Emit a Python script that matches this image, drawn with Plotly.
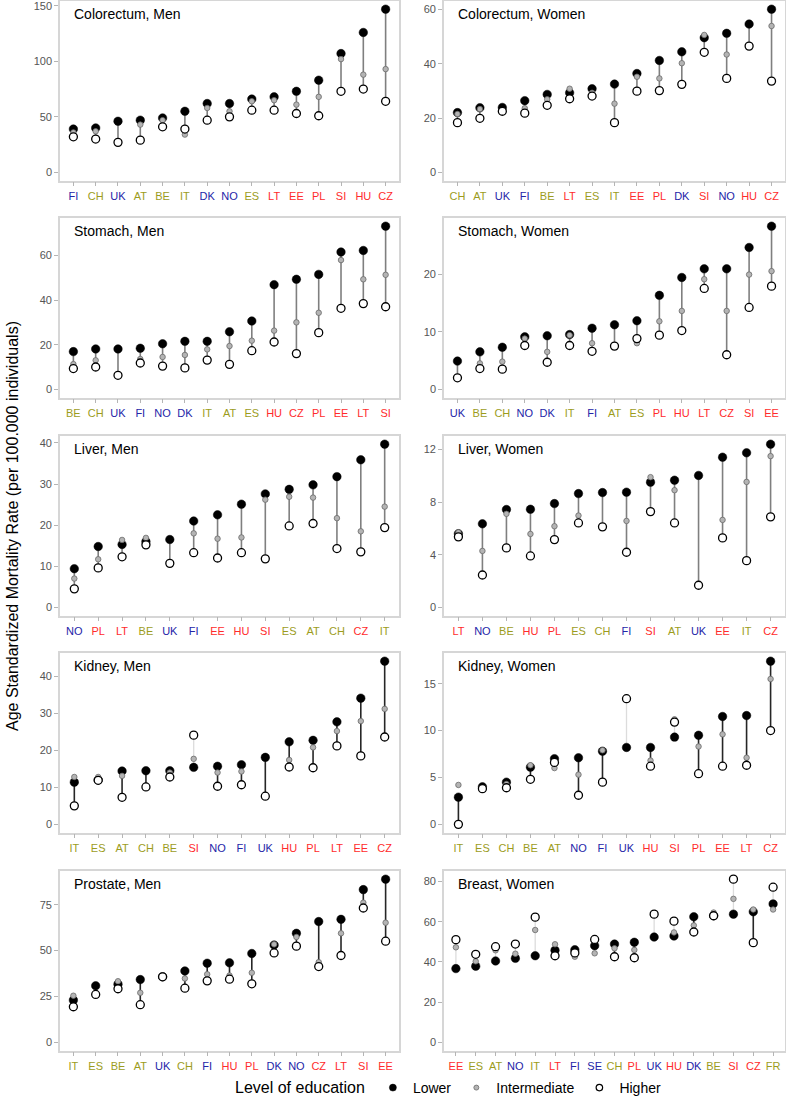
import plotly.graph_objects as go

# ---------------- region groups (tick label colours) ----------------
WEST = ["CH", "AT", "BE", "IT", "ES", "FR"]
NORTH = ["FI", "UK", "DK", "NO", "SE"]
EAST = ["LT", "EE", "PL", "SI", "HU", "CZ"]

# ---------------- data ----------------
colorectum_men_countries = ["FI", "CH", "UK", "AT", "BE", "IT", "DK", "NO", "ES", "LT", "EE", "PL", "SI", "HU", "CZ"]
colorectum_men_lower = [39, 40, 46, 47, 49, 55, 62, 62, 66, 68, 73, 83, 107, 126, 147]
colorectum_men_intermediate = [36, 37, None, 43, 47, 34, 58, 55, 64, 65, 61, 68, 102, 88, 93]
colorectum_men_higher = [32, 30, 27, 29, 41, 39, 47, 50, 56, 56, 53, 51, 73, 75, 64]

colorectum_women_countries = ["CH", "AT", "UK", "FI", "BE", "LT", "ES", "IT", "EE", "PL", "DK", "SI", "NO", "HU", "CZ"]
colorectum_women_lower = [22.0, 23.8, 23.9, 26.4, 28.7, 29.3, 30.8, 32.5, 36.4, 41.2, 44.4, 49.6, 51.2, 54.6, 60.1]
colorectum_women_intermediate = [21.5, 23.3, None, 23.6, 26.9, 30.8, 29.3, 25.3, 35.2, 34.6, 40.2, 50.6, 43.4, None, 53.9]
colorectum_women_higher = [18.3, 19.9, 22.5, 21.8, 24.7, 27.1, 28.1, 18.3, 29.9, 30.1, 32.4, 44.2, 34.6, 46.5, 33.6]

stomach_men_countries = ["BE", "CH", "UK", "FI", "NO", "DK", "IT", "AT", "ES", "HU", "CZ", "PL", "EE", "LT", "SI"]
stomach_men_lower = [16.9, 18.1, 18.1, 18.4, 20.4, 21.5, 21.5, 25.8, 30.6, 46.9, 49.3, 51.5, 61.5, 62.2, 73.1]
stomach_men_intermediate = [11.3, 13.0, None, 13.6, 14.5, 15.4, 17.9, 19.4, 21.8, 26.3, 30.0, 34.3, 57.9, 49.3, 51.3]
stomach_men_higher = [9.3, 10.0, 6.3, 11.8, 10.4, 9.6, 13.1, 11.2, 17.3, 21.2, 16.0, 25.4, 36.3, 38.4, 37.0]

stomach_women_countries = ["UK", "BE", "CH", "NO", "DK", "IT", "FI", "AT", "ES", "PL", "HU", "LT", "CZ", "SI", "EE"]
stomach_women_lower = [4.9, 6.5, 7.3, 9.1, 9.3, 9.5, 10.6, 11.2, 11.9, 16.3, 19.4, 20.9, 20.9, 24.6, 28.3]
stomach_women_intermediate = [None, 4.5, 4.8, 8.8, 6.5, 9.4, 8.0, None, 8.0, 11.8, 13.6, 19.1, 13.6, 19.9, 20.5]
stomach_women_higher = [2.0, 3.6, 3.5, 7.6, 4.7, 7.6, 6.6, 7.5, 8.8, 9.4, 10.2, 17.5, 6.0, 14.2, 17.9]

liver_men_countries = ["NO", "PL", "LT", "BE", "UK", "FI", "EE", "HU", "SI", "ES", "AT", "CH", "CZ", "IT"]
liver_men_lower = [9.4, 14.8, 15.3, 16.0, 16.5, 21.0, 22.5, 25.1, 27.6, 28.7, 29.8, 31.8, 35.9, 39.7]
liver_men_intermediate = [7.0, 11.7, 16.4, 16.9, None, 18.0, 16.7, 17.0, 26.2, 26.9, 26.7, 21.7, 18.5, 24.5]
liver_men_higher = [4.5, 9.6, 12.3, 15.2, 10.7, 13.3, 12.0, 13.3, 11.8, 19.8, 20.4, 14.3, 13.5, 19.4]

liver_women_countries = ["LT", "NO", "BE", "HU", "PL", "ES", "CH", "FI", "SI", "AT", "UK", "EE", "IT", "CZ"]
liver_women_lower = [5.6, 6.35, 7.44, 7.46, 7.89, 8.65, 8.73, 8.76, 9.52, 9.67, 10.03, 11.42, 11.75, 12.41]
liver_women_intermediate = [5.7, 4.29, 7.11, 5.58, 6.17, 6.98, None, 6.57, 9.90, 8.91, None, 6.65, 9.54, 11.50]
liver_women_higher = [5.36, 2.46, 4.52, 3.91, 5.15, 6.42, 6.12, 4.19, 7.28, 6.42, 1.68, 5.28, 3.55, 6.88]

kidney_men_countries = ["IT", "ES", "AT", "CH", "BE", "SI", "NO", "FI", "UK", "HU", "PL", "LT", "EE", "CZ"]
kidney_men_lower = [11.4, 12.0, 14.4, 14.5, 14.5, 15.4, 15.7, 16.1, 18.1, 22.3, 22.7, 27.7, 34.1, 44.1]
kidney_men_intermediate = [12.8, 12.8, 13.1, None, 14.0, 17.7, 14.0, 14.3, None, 17.4, 20.8, 25.2, 27.9, 31.2]
kidney_men_higher = [5.0, 11.9, 7.3, 10.1, 12.8, 24.1, 10.3, 10.7, 7.6, 15.5, 15.3, 21.2, 18.5, 23.6]

kidney_women_countries = ["IT", "ES", "CH", "BE", "AT", "NO", "FI", "UK", "HU", "SI", "PL", "EE", "LT", "CZ"]
kidney_women_lower = [2.9, 4.0, 4.5, 6.1, 7.0, 7.1, 7.8, 8.2, 8.2, 9.3, 9.5, 11.5, 11.6, 17.4]
kidney_women_intermediate = [4.2, None, 4.3, 6.3, 6.0, 5.3, 7.9, None, 6.8, 11.2, 8.3, 9.6, 7.1, 15.5]
kidney_women_higher = [0.0, 3.8, 3.9, 4.8, 6.6, 3.1, 4.5, 13.4, 6.2, 10.9, 5.4, 6.2, 6.3, 10.0]

prostate_men_countries = ["IT", "ES", "BE", "AT", "UK", "CH", "FI", "HU", "PL", "DK", "NO", "CZ", "LT", "SI", "EE"]
prostate_men_lower = [23.0, 30.8, 31.7, 34.2, 35.7, 38.9, 43.1, 43.3, 48.4, 53.0, 59.4, 65.8, 67.0, 83.2, 88.9]
prostate_men_intermediate = [25.4, None, 33.3, 27.0, None, 34.8, 37.1, 36.4, 37.9, 53.4, 57.4, 43.7, 59.4, 76.1, 65.2]
prostate_men_higher = [19.4, 26.1, 29.2, 20.5, 35.7, 29.5, 33.5, 34.4, 31.9, 48.7, 52.4, 41.3, 47.3, 73.2, 55.1]

breast_women_countries = ["EE", "ES", "AT", "NO", "IT", "LT", "FI", "SE", "CH", "PL", "UK", "HU", "DK", "BE", "SI", "CZ", "FR"]
breast_women_lower = [36.7, 37.9, 40.5, 41.8, 43.1, 45.8, 46.1, 48.1, 48.9, 49.8, 52.4, 52.9, 62.5, 63.0, 63.8, 65.0, 68.9]
breast_women_intermediate = [47.3, 40.3, 45.8, 44.1, 55.9, 48.8, 42.6, 44.3, 46.8, 46.0, None, 54.7, 58.2, 64.6, 71.4, 66.1, 66.1]
breast_women_higher = [51.1, 43.8, 47.6, 48.9, 62.3, 43.1, 44.5, 51.2, 42.6, 42.1, 63.8, 60.3, 54.9, 63.0, 81.2, 49.6, 77.2]

panel_titles = ["Colorectum, Men", "Colorectum, Women", "Stomach, Men", "Stomach, Women",
                "Liver, Men", "Liver, Women", "Kidney, Men", "Kidney, Women",
                "Prostate, Men", "Breast, Women"]
panel_yticks = [[0, 50, 100, 150], [0, 20, 40, 60], [0, 20, 40, 60], [0, 10, 20],
                [0, 10, 20, 30, 40], [0, 4, 8, 12], [0, 10, 20, 30, 40], [0, 5, 10, 15],
                [0, 25, 50, 75], [0, 20, 40, 60, 80]]

panels = [
    (colorectum_men_countries, colorectum_men_lower, colorectum_men_intermediate, colorectum_men_higher),
    (colorectum_women_countries, colorectum_women_lower, colorectum_women_intermediate, colorectum_women_higher),
    (stomach_men_countries, stomach_men_lower, stomach_men_intermediate, stomach_men_higher),
    (stomach_women_countries, stomach_women_lower, stomach_women_intermediate, stomach_women_higher),
    (liver_men_countries, liver_men_lower, liver_men_intermediate, liver_men_higher),
    (liver_women_countries, liver_women_lower, liver_women_intermediate, liver_women_higher),
    (kidney_men_countries, kidney_men_lower, kidney_men_intermediate, kidney_men_higher),
    (kidney_women_countries, kidney_women_lower, kidney_women_intermediate, kidney_women_higher),
    (prostate_men_countries, prostate_men_lower, prostate_men_intermediate, prostate_men_higher),
    (breast_women_countries, breast_women_lower, breast_women_intermediate, breast_women_higher),
]

# ---------------- styling ----------------
W, H = 786, 1108
FONT = "Liberation Sans, Arial, Helvetica, sans-serif"
COL_WEST = "#9c9c1c"
COL_NORTH = "#2424a8"
COL_EAST = "#ff2b2b"
BORDER = "#d6d6d6"

col_x = [(60, 399), (444, 785)]
row_top = [1, 218, 436, 653, 871]
PANEL_H = 179.5


def country_color(c):
    if c in WEST:
        return COL_WEST
    if c in NORTH:
        return COL_NORTH
    return COL_EAST


fig = go.Figure()
layout = {}

for k, (countries, lower, inter, higher) in enumerate(panels):
    r, c = divmod(k, 2)
    sfx = "" if k == 0 else str(k + 1)
    xname, yname = "x" + sfx, "y" + sfx
    n = len(countries)

    seg_color = "#7f7f7f" if r < 3 else "#262626"
    rev_color = "#dcdcdc"

    # segments from lower to higher
    sx, sy, rx, ry = [], [], [], []
    for cc, lo, hi in zip(countries, lower, higher):
        if hi > lo:
            rx += [cc, cc, None]
            ry += [lo, hi, None]
        else:
            sx += [cc, cc, None]
            sy += [lo, hi, None]
    fig.add_trace(go.Scatter(x=rx, y=ry, mode="lines", line=dict(color=rev_color, width=1.3),
                             xaxis=xname, yaxis=yname, showlegend=False, hoverinfo="skip"))
    fig.add_trace(go.Scatter(x=sx, y=sy, mode="lines", line=dict(color=seg_color, width=1.6),
                             xaxis=xname, yaxis=yname, showlegend=False, hoverinfo="skip"))
    fig.add_trace(go.Scatter(x=countries, y=lower, mode="markers",
                             marker=dict(color="black", size=8.5, line=dict(color="black", width=0.5)),
                             xaxis=xname, yaxis=yname, showlegend=False, name="Lower"))
    fig.add_trace(go.Scatter(x=countries, y=inter, mode="markers",
                             marker=dict(color="#b4b4b4", size=5.5, line=dict(color="#6a6a6a", width=0.8)),
                             xaxis=xname, yaxis=yname, showlegend=False, name="Intermediate"))
    fig.add_trace(go.Scatter(x=countries, y=higher, mode="markers",
                             marker=dict(color="white", size=8, line=dict(color="black", width=1.3)),
                             xaxis=xname, yaxis=yname, showlegend=False, name="Higher"))

    vals = [v for v in lower + inter + higher if v is not None] + [0]
    vmin, vmax = min(vals), max(vals)
    span = vmax - vmin
    yr = [vmin - 0.05 * span, vmax + 0.05 * span]

    x0, x1 = col_x[c]
    top = row_top[r]
    bot = top + PANEL_H
    layout["xaxis" + sfx] = dict(
        domain=[x0 / W, x1 / W], anchor=yname, type="category",
        categoryorder="array", categoryarray=countries,
        range=[-0.6, n - 0.4],
        tickmode="array", tickvals=countries,
        ticktext=[f"<span style='color:{country_color(cc)}'>{cc}</span>" for cc in countries],
        tickfont=dict(size=11, family=FONT),
        ticks="outside", ticklen=4, tickcolor="#b5b5b5", tickwidth=1,
        showline=True, mirror=True, linecolor=BORDER, linewidth=1.6,
        showgrid=False, zeroline=False, fixedrange=True, ticklabeloverflow="allow",
    )
    layout["yaxis" + sfx] = dict(
        domain=[1 - bot / H, 1 - top / H], anchor=xname,
        range=yr, tickmode="array", tickvals=panel_yticks[k],
        tickfont=dict(size=11, family=FONT, color="#555555"),
        ticks="outside", ticklen=4, tickcolor="#b5b5b5", tickwidth=1,
        showline=True, mirror=True, linecolor=BORDER, linewidth=1.6,
        showgrid=False, zeroline=False, fixedrange=True, ticklabeloverflow="allow",
    )

# legend dummy traces
fig.add_trace(go.Scatter(x=[None], y=[None], mode="markers", name="Lower",
                         marker=dict(color="black", size=7, line=dict(color="black", width=0.5))))
fig.add_trace(go.Scatter(x=[None], y=[None], mode="markers", name="Intermediate",
                         marker=dict(color="#b4b4b4", size=5, line=dict(color="#6a6a6a", width=0.8))))
fig.add_trace(go.Scatter(x=[None], y=[None], mode="markers", name="Higher",
                         marker=dict(color="white", size=6.5, line=dict(color="black", width=1.2))))

annotations = []
for k, t in enumerate(panel_titles):
    sfx = "" if k == 0 else str(k + 1)
    annotations.append(dict(text=t, xref="x" + sfx + " domain", yref="y" + sfx + " domain",
                            x=0.034, y=0.93, xanchor="left", yanchor="middle", showarrow=False,
                            font=dict(size=14, family=FONT, color="black")))
annotations.append(dict(text="Age Standardized Mortality Rate (per 100.000 individuals)",
                        xref="paper", yref="paper", x=12 / W, y=1 - 526 / H,
                        xanchor="center", yanchor="middle", textangle=-90, showarrow=False,
                        font=dict(size=16, family=FONT, color="black")))

fig.update_layout(
    width=W, height=H,
    margin=dict(l=0, r=0, t=0, b=0),
    paper_bgcolor="white", plot_bgcolor="white",
    font=dict(family=FONT, color="black"),
    annotations=annotations,
    legend=dict(orientation="h", x=233 / W, xanchor="left", y=1 - 1088 / H, yanchor="middle",
                title=dict(text="Level of education", font=dict(size=16, family=FONT), side="left"),
                font=dict(size=14, family=FONT), bgcolor="rgba(0,0,0,0)", itemclick=False,
                itemdoubleclick=False, tracegroupgap=0),
    hovermode="closest",
    **layout,
)

fig.write_html("out.html", config={"displayModeBar": False},
               post_script="document.body.style.margin='0px';document.body.style.overflow='hidden';")
